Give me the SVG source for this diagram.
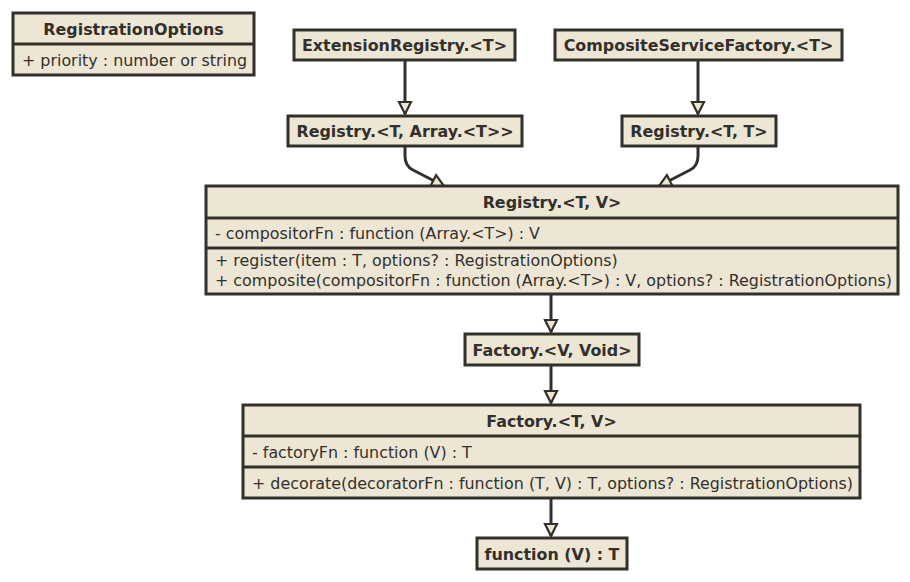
<svg xmlns="http://www.w3.org/2000/svg" width="910" height="582" viewBox="0 0 910 582">
<style>
.box{fill:#ede6d5;stroke:#33302b;stroke-width:3}
.div{stroke:#33302b;stroke-width:3}
.t{font-family:"DejaVu Sans",sans-serif;font-size:15.9px;fill:#33302b}
.b{font-weight:bold;text-anchor:middle}
.edge{fill:none;stroke:#33302b;stroke-width:3;marker-end:url(#tri)}
</style>
<defs>
<marker id="tri" viewBox="-2 -2 16 16" refX="12" refY="6" markerWidth="16" markerHeight="16" markerUnits="userSpaceOnUse" orient="auto">
<path d="M0,0 L12,6 L0,12 z" fill="#ede6d5" stroke="#33302b" stroke-width="2.2" stroke-linejoin="miter"/>
</marker>
</defs>
<g id="edges">
<path class="edge" d="M405,60 L405,114"/>
<path class="edge" d="M698,60 L698,114"/>
<path class="edge" d="M405,146 L405,156 Q405,166 413,170 L444,186"/>
<path class="edge" d="M698,146 L698,156 Q698,166 690,170 L659,186"/>
<path class="edge" d="M551,294 L551,332"/>
<path class="edge" d="M551,365 L551,403"/>
<path class="edge" d="M551,498 L551,536"/>
</g>
<g id="RegistrationOptions">
<rect class="box" x="13" y="13" width="241" height="62"/>
<line class="div" x1="13" y1="44" x2="254" y2="44"/>
<text class="t b" x="133.5" y="35">RegistrationOptions</text>
<text class="t" x="22" y="66">+ priority : number or string</text>
</g>
<g id="ExtensionRegistry">
<rect class="box" x="294" y="30" width="221" height="30"/>
<text class="t b" x="404.5" y="51">ExtensionRegistry.&lt;T&gt;</text>
</g>
<g id="CompositeServiceFactory">
<rect class="box" x="555" y="30" width="287" height="30"/>
<text class="t b" x="698.5" y="51">CompositeServiceFactory.&lt;T&gt;</text>
</g>
<g id="RegistryTArray">
<rect class="box" x="288" y="116" width="234" height="30"/>
<text class="t b" x="405" y="137">Registry.&lt;T, Array.&lt;T&gt;&gt;</text>
</g>
<g id="RegistryTT">
<rect class="box" x="622" y="116" width="154" height="30"/>
<text class="t b" x="699" y="137">Registry.&lt;T, T&gt;</text>
</g>
<g id="RegistryTV">
<rect class="box" x="206" y="186" width="692" height="108"/>
<line class="div" x1="206" y1="218" x2="898" y2="218"/>
<line class="div" x1="206" y1="248" x2="898" y2="248"/>
<text class="t b" x="552" y="208">Registry.&lt;T, V&gt;</text>
<text class="t" x="215" y="239">- compositorFn : function (Array.&lt;T&gt;) : V</text>
<text class="t" x="215" y="266">+ register(item : T, options? : RegistrationOptions)</text>
<text class="t" x="215" y="285.5">+ composite(compositorFn : function (Array.&lt;T&gt;) : V, options? : RegistrationOptions)</text>
</g>
<g id="FactoryVVoid">
<rect class="box" x="465" y="334" width="174" height="31"/>
<text class="t b" x="552" y="356">Factory.&lt;V, Void&gt;</text>
</g>
<g id="FactoryTV">
<rect class="box" x="243" y="405" width="617" height="93"/>
<line class="div" x1="243" y1="436" x2="860" y2="436"/>
<line class="div" x1="243" y1="467" x2="860" y2="467"/>
<text class="t b" x="551.5" y="427">Factory.&lt;T, V&gt;</text>
<text class="t" x="252" y="458">- factoryFn : function (V) : T</text>
<text class="t" x="252" y="489">+ decorate(decoratorFn : function (T, V) : T, options? : RegistrationOptions)</text>
</g>
<g id="functionVT">
<rect class="box" x="477" y="538" width="150" height="31"/>
<text class="t b" x="552" y="560">function (V) : T</text>
</g>
</svg>
